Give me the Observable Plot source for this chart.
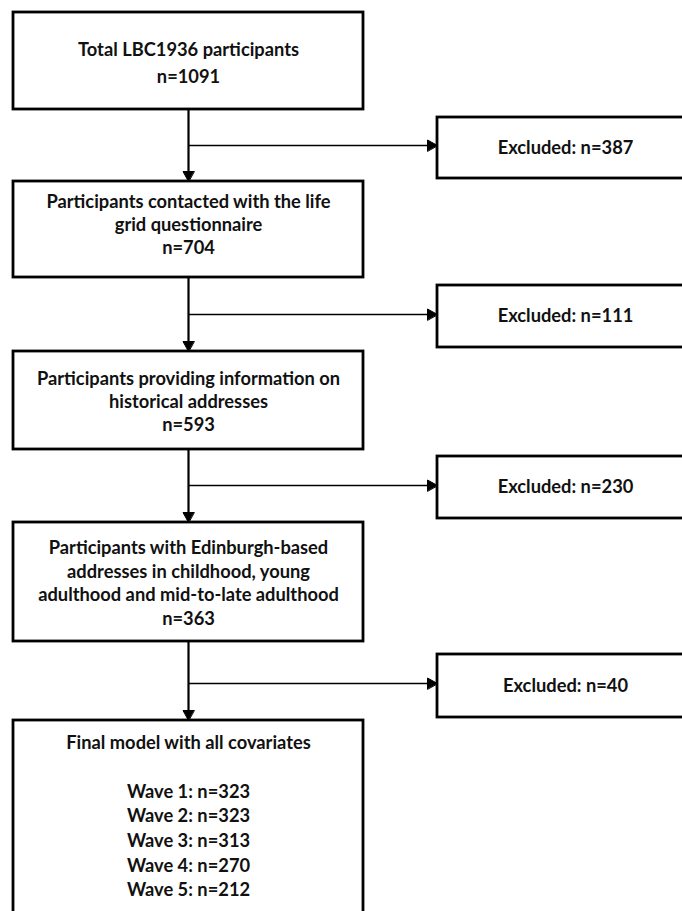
<!DOCTYPE html>
<html>
<head>
<meta charset="utf-8">
<script src="https://cdn.jsdelivr.net/npm/d3@7"></script>
<script src="https://cdn.jsdelivr.net/npm/@observablehq/plot@0.6"></script>
<style>
  html, body { margin: 0; padding: 0; background: white; }
  svg { overflow: hidden; }
</style>
</head>
<body>
<div id="chart"></div>
<script>
// ---- data ----
const stageLabels = [
  "Total LBC1936 participants",
  "Participants contacted with the life\ngrid questionnaire",
  "Participants providing information on\nhistorical addresses",
  "Participants with Edinburgh-based\naddresses in childhood, young\nadulthood and mid-to-late adulthood",
  "Final model with all covariates"
];
const stageN = [1091, 704, 593, 363];
const excludedN = [387, 111, 230, 40];
const waveLabels = ["Wave 1", "Wave 2", "Wave 3", "Wave 4", "Wave 5"];
const waveN = [323, 323, 313, 270, 212];

// ---- layout (computed in code) ----
const W = 682, H = 911;
const L = {x1: 13, x2: 363}; L.cx = (L.x1 + L.x2) / 2;
const R = {x1: 437, x2: 693, cx: 565};
const boxY = [[12, 109], [181, 277], [351, 449], [522, 641], [720, 940]];
const exY = [[117, 178], [285, 347], [456, 518], [654, 717]];
const branchY = [145, 314, 485, 683];
const head = 10, half = 5.5;
const fs = 18.3;

const boxes = boxY.map(([y1, y2]) => ({x1: L.x1, x2: L.x2, y1, y2}));
const exBoxes = exY.map(([y1, y2]) => ({x1: R.x1, x2: R.x2, y1, y2}));

const stageText = stageLabels.slice(0, 4).map((s, i) => ({
  x: L.cx, y: (boxY[i][0] + boxY[i][1]) / 2 + (i === 1 ? -6 : 0),
  text: s + "\nn=" + stageN[i], lh: i === 0 ? 1.48 : 1.28
}));
const finalText = [{
  x: L.cx, y: 731,
  text: stageLabels[4] + "\n\n" + waveLabels.map((w, i) => `${w}: n=${waveN[i]}`).join("\n")
}];
const exText = excludedN.map((n, i) => ({x: R.cx, y: (exY[i][0] + exY[i][1]) / 2, text: "Excluded: n=" + n}));

// connector segments
const vSegs = [], hSegs = [], heads = [];
for (let i = 0; i < 4; i++) {
  const yTop = boxY[i + 1][0];
  vSegs.push({x1: L.cx, y1: boxY[i][1], x2: L.cx, y2: yTop - head + 1});
  heads.push({id: "v" + i, x: L.cx, y: yTop}, {id: "v" + i, x: L.cx - half, y: yTop - head}, {id: "v" + i, x: L.cx + half, y: yTop - head});
  const by = branchY[i];
  hSegs.push({x1: L.cx, y1: by, x2: R.x1 - head + 1, y2: by});
  heads.push({id: "h" + i, x: R.x1, y: by}, {id: "h" + i, x: R.x1 - head, y: by - half}, {id: "h" + i, x: R.x1 - head, y: by + half});
}

const font = "Lato, 'Open Sans', sans-serif";
const chart = Plot.plot({
  width: W, height: H, margin: 0,
  x: {domain: [0, W], range: [0, W], axis: null},
  y: {domain: [0, H], range: [0, H], axis: null},
  style: {fontFamily: font, background: "white"},
  marks: [
    Plot.link(vSegs, {x1: "x1", y1: "y1", x2: "x2", y2: "y2", stroke: "black", strokeWidth: 2.2}),
    Plot.link(hSegs, {x1: "x1", y1: "y1", x2: "x2", y2: "y2", stroke: "black", strokeWidth: 1.6}),
    Plot.line(heads, {x: "x", y: "y", z: "id", fill: "black", stroke: "black", strokeWidth: 1, curve: "linear-closed"}),
    Plot.rect(boxes, {x1: "x1", x2: "x2", y1: "y1", y2: "y2", fill: "white", stroke: "black", strokeWidth: 2.8}),
    Plot.rect(exBoxes, {x1: "x1", x2: "x2", y1: "y1", y2: "y2", fill: "white", stroke: "black", strokeWidth: 2.8}),
    Plot.text(stageText.filter(d => d.lh > 1.4), {x: "x", y: "y", text: "text", fontSize: fs, fontWeight: 700, lineHeight: 1.48, fill: "#111"}),
    Plot.text(stageText.filter(d => d.lh < 1.4), {x: "x", y: "y", text: "text", fontSize: fs, fontWeight: 700, lineHeight: 1.28, fill: "#111"}),
    Plot.text(finalText, {x: "x", y: "y", text: "text", fontSize: fs, fontWeight: 700, lineHeight: 1.34, lineAnchor: "top", fill: "#111"}),
    Plot.text(exText, {x: "x", y: "y", text: "text", fontSize: fs, fontWeight: 700, fill: "#111"})
  ]
});
document.getElementById("chart").appendChild(chart);
</script>
</body>
</html>
